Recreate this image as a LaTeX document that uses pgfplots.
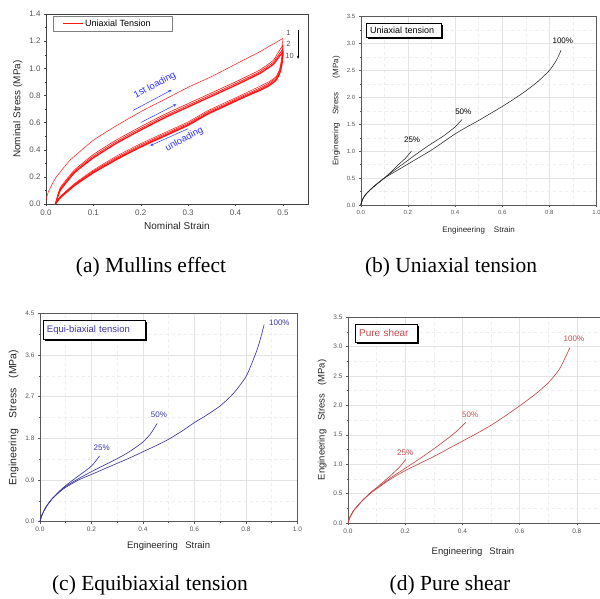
\documentclass[border=0pt]{standalone}
\usepackage{fontspec}
\setmainfont{Liberation Sans}
\newfontfamily\capfont{Liberation Serif}
\usepackage{pgfplots}
\pgfplotsset{compat=1.18}
\usetikzlibrary{shadows,arrows.meta}

\definecolor{ebblue}{RGB}{60,55,160}
\definecolor{psred}{RGB}{195,75,75}
\definecolor{tickgray}{RGB}{85,85,85}
\definecolor{mulred}{RGB}{255,20,20}
\definecolor{annblue}{RGB}{50,50,255}

\pgfplotsset{
  panel/.style={
    scale only axis, anchor=south west,
    tick pos=left, tick align=outside,
    /pgf/number format/assume math mode=true,
    /pgf/number format/fixed, /pgf/number format/fixed zerofill,
    /pgf/number format/precision=1,
    tick label style={font=\fontsize{6}{7}\selectfont, text=tickgray},
    label style={font=\fontsize{8}{10}\selectfont, text=black!85},
    axis line style={gray!70!black},
    major tick length=2pt, minor tick length=1.2pt,
    every tick/.style={gray!70!black},
  },
  gridded/.style={grid=both, major grid style={gray!22}, minor grid style={gray!14, dashed},
    minor x tick num=1, minor y tick num=1},
}
\tikzset{
  tag/.style={font=\fontsize{8}{9}\selectfont},
  box/.style={draw=black, fill=white, anchor=north west, line width=0.5pt,
    drop shadow={shadow xshift=1.6pt, shadow yshift=-1.6pt, opacity=1, fill=black},
    font=\fontsize{9}{10}\selectfont, inner xsep=4pt, align=left},
}

\begin{document}
\begin{tikzpicture}

% ---------------- (a) Mullins effect
\begin{axis}[panel, at={(46pt,395pt)}, width=262pt, height=190pt,
  xmin=0, xmax=0.553, ymin=0, ymax=1.4,
  xtick={0,0.1,0.2,0.3,0.4,0.5}, ytick={0,0.2,0.4,0.6,0.8,1.0,1.2,1.4},
  minor x tick num=1, minor y tick num=1,
  axis line style={black!75}, every tick/.style={black!75},
  tick label style={font=\fontsize{8}{9}\selectfont},
  label style={font=\fontsize{10}{12}\selectfont},
  xlabel={Nominal Strain}, ylabel={Nominal Stress (MPa)},
  legend style={at={(axis description cs:0.027,0.99)}, anchor=north west,
    draw=gray, font=\fontsize{9}{10}\selectfont, inner xsep=9pt, inner ysep=1.5pt},
  legend image code/.code={\draw[#1] (0pt,0pt)--(20pt,0pt);},
  smooth, tension=0.25]
\addlegendimage{draw=mulred, line width=0.8pt}
\addlegendentry{\makebox[76pt][l]{Uniaxial Tension}}
% cycle 1
\addplot[mulred, line width=0.5pt, forget plot] coordinates {
 (0.0,0.03)(0.005,0.09)(0.02,0.19)(0.05,0.32)(0.1,0.47)(0.15,0.58)(0.2,0.68)
 (0.25,0.77)(0.3,0.86)(0.35,0.94)(0.4,1.03)(0.45,1.12)(0.5,1.22)};
\addplot[mulred, line width=0.5pt, forget plot] coordinates {
 (0.5,1.22)(0.498,1.1)(0.494,1.0)(0.486,0.94)(0.47,0.9)(0.45,0.865)(0.42,0.815)
 (0.38,0.75)(0.34,0.685)(0.3,0.605)(0.25,0.525)(0.2,0.445)(0.15,0.355)(0.1,0.25)
 (0.06,0.15)(0.03,0.055)(0.02,0.0)};
% cycle 2
\addplot[mulred, line width=0.6pt, forget plot] coordinates {
 (0.02,0)(0.03,0.12)(0.06,0.25)(0.1,0.365)(0.15,0.475)(0.2,0.57)(0.25,0.66)
 (0.3,0.74)(0.35,0.82)(0.4,0.9)(0.45,0.985)(0.48,1.06)(0.5,1.17)
 (0.498,1.07)(0.493,0.99)(0.485,0.93)(0.47,0.89)(0.45,0.852)(0.42,0.805)(0.38,0.74)
 (0.34,0.675)(0.3,0.595)(0.25,0.515)(0.2,0.435)(0.15,0.345)(0.1,0.243)(0.06,0.145)
 (0.03,0.052)(0.02,0)};
% cycle 4
\addplot[mulred, line width=0.7pt, forget plot] coordinates {
 (0.02,0)(0.03,0.11)(0.06,0.24)(0.1,0.352)(0.15,0.462)(0.2,0.557)(0.25,0.647)
 (0.3,0.727)(0.35,0.807)(0.4,0.887)(0.45,0.972)(0.48,1.045)(0.5,1.14)
 (0.498,1.05)(0.493,0.975)(0.485,0.92)(0.47,0.88)(0.45,0.843)(0.42,0.797)(0.38,0.732)
 (0.34,0.667)(0.3,0.587)(0.25,0.507)(0.2,0.427)(0.15,0.337)(0.1,0.236)(0.06,0.14)
 (0.03,0.05)(0.02,0)};
% cycle 10
\addplot[mulred, line width=1.3pt, forget plot] coordinates {
 (0.02,0)(0.03,0.1)(0.06,0.23)(0.1,0.34)(0.15,0.45)(0.2,0.545)(0.25,0.635)
 (0.3,0.715)(0.35,0.795)(0.4,0.875)(0.45,0.96)(0.48,1.03)(0.5,1.12)
 (0.498,1.03)(0.493,0.96)(0.485,0.91)(0.47,0.87)(0.45,0.835)(0.42,0.79)(0.38,0.725)
 (0.34,0.66)(0.3,0.58)(0.25,0.5)(0.2,0.42)(0.15,0.33)(0.1,0.23)(0.06,0.135)
 (0.03,0.045)(0.02,0)};
% annotations
\draw[annblue, -{Stealth[length=3pt,width=2.5pt]}, line width=0.5pt]
  (axis cs:0.184,0.69) -- (axis cs:0.265,0.84);
\draw[annblue, -{Stealth[length=3pt,width=2.5pt]}, line width=0.5pt]
  (axis cs:0.2,0.6) -- (axis cs:0.275,0.735);
\draw[annblue, -{Stealth[length=3pt,width=2.5pt]}, line width=0.5pt]
  (axis cs:0.30,0.555) -- (axis cs:0.22,0.43);
\node[annblue, rotate=28, font=\fontsize{9.5}{10}\selectfont] at (axis cs:0.23,0.875) {1st loading};
\node[annblue, rotate=28, font=\fontsize{9.5}{10}\selectfont] at (axis cs:0.292,0.475) {unloading};
\node[text=tickgray, font=\fontsize{7.5}{8}\selectfont] at (axis cs:0.512,1.26) {1};
\node[text=tickgray, font=\fontsize{7.5}{8}\selectfont] at (axis cs:0.512,1.18) {2};
\node[text=tickgray, font=\fontsize{7.5}{8}\selectfont] at (axis cs:0.514,1.09) {10};
\draw[black, -{Stealth[length=3pt,width=2.5pt]}, line width=0.4pt]
  (axis cs:0.532,1.28) -- (axis cs:0.532,1.07);
\end{axis}

% ---------------- (b) Uniaxial tension
\begin{axis}[panel, gridded, at={(360.7pt,394pt)}, width=235.8pt, height=188.3pt,
  xmin=0, xmax=1, ymin=0, ymax=3.5,
  xtick={0,0.2,0.4,0.6,0.8,1.0}, ytick={0,0.5,1.0,1.5,2.0,2.5,3.0,3.5},
  xlabel={Engineering\hspace{9pt}Strain}, ylabel={Engineering\hspace{8pt}Stress\hspace{14pt}(MPa)},
  xlabel style={yshift=-5pt},
  smooth, tension=0.4]
\addplot[black!85, line width=0.55pt] coordinates {
 (0,0)(0.005,0.07)(0.01,0.12)(0.02,0.19)(0.04,0.28)(0.06,0.36)(0.08,0.43)(0.1,0.5)
 (0.15,0.63)(0.2,0.76)(0.25,0.89)(0.3,1.02)(0.35,1.17)(0.4,1.32)(0.45,1.45)
 (0.5,1.57)(0.55,1.7)(0.6,1.83)(0.65,1.97)(0.7,2.12)(0.75,2.29)(0.8,2.5)(0.83,2.69)(0.85,2.88)};
\addplot[black!85, line width=0.55pt] coordinates {
 (0,0)(0.005,0.07)(0.01,0.12)(0.02,0.19)(0.04,0.28)(0.06,0.36)(0.08,0.43)(0.1,0.5)
 (0.12,0.57)(0.15,0.67)(0.2,0.83)(0.25,0.99)(0.3,1.14)(0.35,1.28)(0.38,1.38)(0.4,1.45)(0.43,1.59)};
\addplot[black!85, line width=0.55pt] coordinates {
 (0,0)(0.005,0.07)(0.01,0.12)(0.02,0.19)(0.04,0.28)(0.06,0.36)(0.08,0.43)(0.1,0.5)
 (0.13,0.62)(0.16,0.75)(0.19,0.87)(0.215,1.0)};
\node[tag] at (axis cs:0.218,1.22) {25\%};
\node[tag] at (axis cs:0.435,1.74) {50\%};
\node[tag] at (axis cs:0.857,3.06) {100\%};
\node[box, text width=67pt, minimum height=13.5pt, inner ysep=1pt] at (axis description cs:0.022,0.965) {Uniaxial tension};
\end{axis}

% ---------------- (c) Equi-biaxial tension
\begin{axis}[panel, gridded, at={(39.9pt,77.3pt)}, width=257.5pt, height=208.4pt,
  xmin=0, xmax=1, ymin=0, ymax=4.5,
  xtick={0,0.2,0.4,0.6,0.8,1.0}, ytick={0,0.9,1.8,2.7,3.6,4.5},
  tick label style={font=\fontsize{6.5}{7}\selectfont},
  label style={font=\fontsize{9.5}{11}\selectfont},
  xlabel={Engineering\hspace{7.5pt}Strain},
  ylabel={Engineering\hspace{11pt}Stress\hspace{10pt}(MPa)},
  ylabel style={font=\fontsize{10.5}{12}\selectfont},
  xlabel style={yshift=-3pt},
  smooth, tension=0.4]
\addplot[ebblue, line width=0.65pt] coordinates {
 (0,0)(0.005,0.1)(0.01,0.17)(0.02,0.28)(0.03,0.37)(0.05,0.51)(0.08,0.66)(0.1,0.74)
 (0.15,0.9)(0.2,1.02)(0.25,1.14)(0.3,1.26)(0.35,1.38)(0.4,1.51)(0.45,1.64)(0.5,1.78)
 (0.55,1.95)(0.6,2.14)(0.65,2.31)(0.7,2.5)(0.75,2.76)(0.8,3.13)(0.836,3.6)(0.855,3.92)(0.871,4.26)};
\addplot[ebblue, line width=0.65pt] coordinates {
 (0,0)(0.005,0.1)(0.01,0.17)(0.02,0.28)(0.03,0.37)(0.05,0.51)(0.08,0.67)(0.1,0.76)
 (0.15,0.93)(0.2,1.08)(0.25,1.22)(0.3,1.36)(0.35,1.52)(0.4,1.72)(0.43,1.9)(0.455,2.12)};
\addplot[ebblue, line width=0.65pt] coordinates {
 (0,0)(0.005,0.1)(0.01,0.17)(0.02,0.28)(0.03,0.37)(0.05,0.51)(0.08,0.68)(0.1,0.78)
 (0.15,0.99)(0.2,1.2)(0.232,1.42)};
\node[tag, text=ebblue] at (axis cs:0.24,1.6) {25\%};
\node[tag, text=ebblue] at (axis cs:0.462,2.32) {50\%};
\node[tag, text=ebblue] at (axis cs:0.93,4.3) {100\%};
\node[box, text=ebblue, font=\fontsize{9.5}{10}\selectfont, text width=94pt, minimum height=19pt]
  at (axis description cs:0.011,0.968) {Equi-biaxial tension};
\end{axis}

% ---------------- (d) Pure shear
\begin{axis}[panel, gridded, at={(348pt,76pt)}, width=286pt, height=206pt,
  xmin=0, xmax=1, ymin=0, ymax=3.5,
  xtick={0,0.2,0.4,0.6,0.8}, ytick={0,0.5,1.0,1.5,2.0,2.5,3.0,3.5},
  extra x ticks={1.0}, extra x tick labels={},
  tick label style={font=\fontsize{6.5}{7}\selectfont},
  label style={font=\fontsize{9.5}{11}\selectfont},
  xlabel={Engineering\hspace{7pt}Strain},
  ylabel={Engineering\hspace{9pt}Stress\hspace{8pt}(MPa)},
  xlabel style={xshift=-18pt, yshift=-4pt},
  smooth, tension=0.4]
\addplot[psred, line width=0.65pt] coordinates {
 (0,0)(0.005,0.08)(0.01,0.13)(0.02,0.21)(0.03,0.27)(0.05,0.38)(0.08,0.51)(0.1,0.58)
 (0.15,0.75)(0.2,0.89)(0.25,1.01)(0.3,1.13)(0.35,1.26)(0.4,1.39)(0.45,1.52)(0.5,1.66)
 (0.55,1.82)(0.6,1.99)(0.65,2.17)(0.7,2.38)(0.74,2.62)(0.776,2.98)};
\addplot[psred, line width=0.65pt] coordinates {
 (0,0)(0.005,0.08)(0.01,0.13)(0.02,0.21)(0.03,0.27)(0.05,0.38)(0.08,0.52)(0.1,0.59)
 (0.15,0.77)(0.2,0.93)(0.25,1.09)(0.3,1.26)(0.35,1.44)(0.38,1.56)(0.412,1.71)};
\addplot[psred, line width=0.65pt] coordinates {
 (0,0)(0.005,0.08)(0.01,0.13)(0.02,0.21)(0.03,0.27)(0.05,0.38)(0.08,0.52)(0.1,0.6)
 (0.15,0.81)(0.18,0.95)(0.202,1.08)};
\node[tag, text=psred] at (axis cs:0.2,1.2) {25\%};
\node[tag, text=psred] at (axis cs:0.427,1.84) {50\%};
\node[tag, text=psred] at (axis cs:0.79,3.13) {100\%};
\node[box, text=psred, font=\fontsize{10}{11}\selectfont, text width=54pt, minimum height=18pt]
  at (axis description cs:0.024,0.966) {Pure shear};
\end{axis}

% captions
\node[font=\capfont\fontsize{21.5}{24}\selectfont] at (151pt,332pt) {(a) Mullins effect};
\node[font=\capfont\fontsize{21.5}{24}\selectfont] at (451pt,332pt) {(b) Uniaxial tension};
\node[font=\capfont\fontsize{21.5}{24}\selectfont] at (150pt,14pt) {(c) Equibiaxial tension};
\node[font=\capfont\fontsize{21.5}{24}\selectfont] at (450pt,14pt) {(d) Pure shear};

\pgfresetboundingbox
\path[use as bounding box] (0pt,0pt) rectangle (600pt,599pt);
\end{tikzpicture}
\end{document}
